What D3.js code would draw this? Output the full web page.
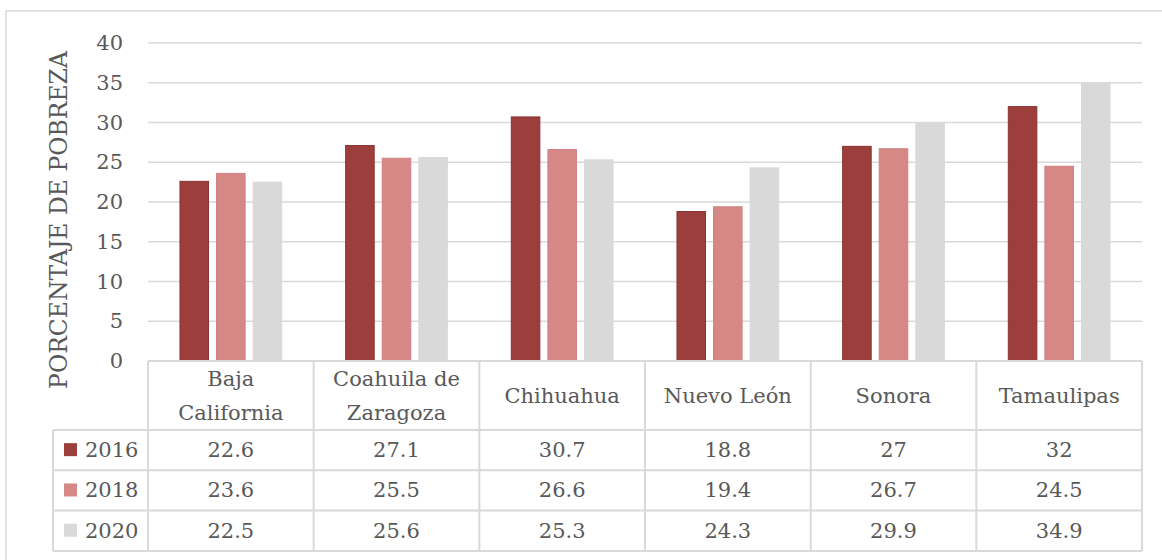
<!DOCTYPE html>
<html>
<head>
<meta charset="utf-8">
<script src="https://cdn.jsdelivr.net/npm/d3@7"></script>
<style>
  body { margin: 0; background: #fff; }
  svg { display: block; font-family: "DejaVu Serif", serif; }
</style>
</head>
<body>
<svg id="chart" width="1162" height="560"></svg>
<script>
// Data
const states = ["Baja California", "Coahuila de Zaragoza", "Chihuahua", "Nuevo León", "Sonora", "Tamaulipas"];
const stateLines = [["Baja", "California"], ["Coahuila de", "Zaragoza"], ["Chihuahua"], ["Nuevo León"], ["Sonora"], ["Tamaulipas"]];
const years = ["2016", "2018", "2020"];
const values2016 = [22.6, 27.1, 30.7, 18.8, 27, 32];
const values2018 = [23.6, 25.5, 26.6, 19.4, 26.7, 24.5];
const values2020 = [22.5, 25.6, 25.3, 24.3, 29.9, 34.9];
const yTicks = [0, 5, 10, 15, 20, 25, 30, 35, 40];
const yTitle = "PORCENTAJE DE POBREZA";

const series = [values2016, values2018, values2020];
const colors = ["#9c3e3c", "#d58886", "#d9d9d9"];
const strokes = ["#8a3230", "#cf8280", "#d9d9d9"];
const textColor = "#595959";
const lineColor = "#d9d9d9";

// layout (plot + data table underneath)
const plotLeft = 148, plotRight = 1142, plotTop = 43, plotBottom = 361;
const legendLeft = 53;
const headerH = 69, rowH = 40.3;

const svg = d3.select("#chart");

// outer chart frame, runs off the right/bottom of the picture
svg.append("rect")
  .attr("x", 6).attr("y", 11)
  .attr("width", 1200).attr("height", 600)
  .attr("fill", "none")
  .attr("stroke", lineColor)
  .attr("stroke-width", 1.5);

const y = d3.scaleLinear().domain([0, 40]).range([plotBottom, plotTop]);
const x0 = d3.scaleBand().domain(states).range([plotLeft, plotRight]);
const bw = x0.bandwidth();
const x1 = d3.scaleBand().domain(years).range([bw * 0.193, bw * 0.807]).paddingInner(0.22);

// gridlines
svg.append("g")
  .selectAll("line")
  .data(yTicks.filter(d => d > 0))
  .enter().append("line")
  .attr("x1", plotLeft).attr("x2", plotRight)
  .attr("y1", d => y(d)).attr("y2", d => y(d))
  .attr("stroke", lineColor)
  .attr("stroke-width", 1.5);

// y axis labels
const yAxis = svg.append("g")
  .attr("transform", `translate(${plotLeft},0)`)
  .call(d3.axisLeft(y).tickValues(yTicks).tickSize(0).tickPadding(25));
yAxis.select(".domain").remove();
yAxis.selectAll("text")
  .attr("fill", textColor)
  .style("font-family", "DejaVu Serif")
  .style("font-size", "21px");

// y title
svg.append("text")
  .attr("transform", `translate(59,${(plotTop + plotBottom) / 2 + 18}) rotate(-90)`)
  .attr("text-anchor", "middle")
  .attr("dominant-baseline", "central")
  .attr("fill", textColor)
  .style("font-size", "23.5px")
  .text(yTitle);

// bars
const groups = svg.append("g")
  .selectAll("g")
  .data(states)
  .enter().append("g")
  .attr("transform", d => `translate(${x0(d)},0)`);

groups.selectAll("rect")
  .data((d, i) => years.map((yr, j) => ({ year: yr, value: series[j][i], idx: j })))
  .enter().append("rect")
  .attr("x", d => x1(d.year))
  .attr("width", x1.bandwidth())
  .attr("y", d => y(d.value))
  .attr("height", d => plotBottom - y(d.value))
  .attr("fill", d => colors[d.idx])
  .attr("stroke", d => strokes[d.idx])
  .attr("stroke-width", 1);

// data table
const table = svg.append("g");
const rowTop = plotBottom + headerH;
const tableBottom = rowTop + rowH * years.length;

// horizontal lines
table.append("line")
  .attr("x1", plotLeft).attr("x2", plotRight)
  .attr("y1", plotBottom).attr("y2", plotBottom);
d3.range(years.length + 1).forEach(i => {
  table.append("line")
    .attr("x1", legendLeft).attr("x2", plotRight)
    .attr("y1", rowTop + i * rowH).attr("y2", rowTop + i * rowH);
});
// vertical lines
table.append("line")
  .attr("x1", legendLeft).attr("x2", legendLeft)
  .attr("y1", rowTop).attr("y2", tableBottom);
table.selectAll("line.col")
  .data(states.map(s => x0(s)).concat([plotRight]))
  .enter().append("line")
  .attr("class", "col")
  .attr("x1", d => d).attr("x2", d => d)
  .attr("y1", plotBottom).attr("y2", tableBottom);
table.selectAll("line")
  .attr("stroke", lineColor)
  .attr("stroke-width", 2);

// category headers
const headers = table.selectAll("text.cat")
  .data(states)
  .enter().append("text")
  .attr("class", "cat")
  .attr("text-anchor", "middle")
  .attr("fill", textColor)
  .style("font-size", "21px");
headers.each(function (d, i) {
  const lines = stateLines[i];
  const cx = x0(d) + bw / 2;
  const cy = plotBottom + headerH / 2;
  lines.forEach((ln, k) => {
    d3.select(this).append("tspan")
      .attr("x", cx)
      .attr("y", cy + (k - (lines.length - 1) / 2) * 34)
      .attr("dominant-baseline", "central")
      .text(ln);
  });
});

// rows: legend key + values
years.forEach((yr, j) => {
  const cy = rowTop + j * rowH + rowH / 2;
  table.append("rect")
    .attr("x", 64).attr("y", cy - 7)
    .attr("width", 13).attr("height", 13)
    .attr("fill", colors[j]);
  table.append("text")
    .attr("x", 85).attr("y", cy)
    .attr("dominant-baseline", "central")
    .attr("fill", textColor)
    .style("font-size", "21px")
    .text(yr);
  table.selectAll(null)
    .data(series[j])
    .enter().append("text")
    .attr("x", (d, i) => x0(states[i]) + bw / 2)
    .attr("y", cy)
    .attr("text-anchor", "middle")
    .attr("dominant-baseline", "central")
    .attr("fill", textColor)
    .style("font-size", "21px")
    .text(d => d);
});
</script>
</body>
</html>
